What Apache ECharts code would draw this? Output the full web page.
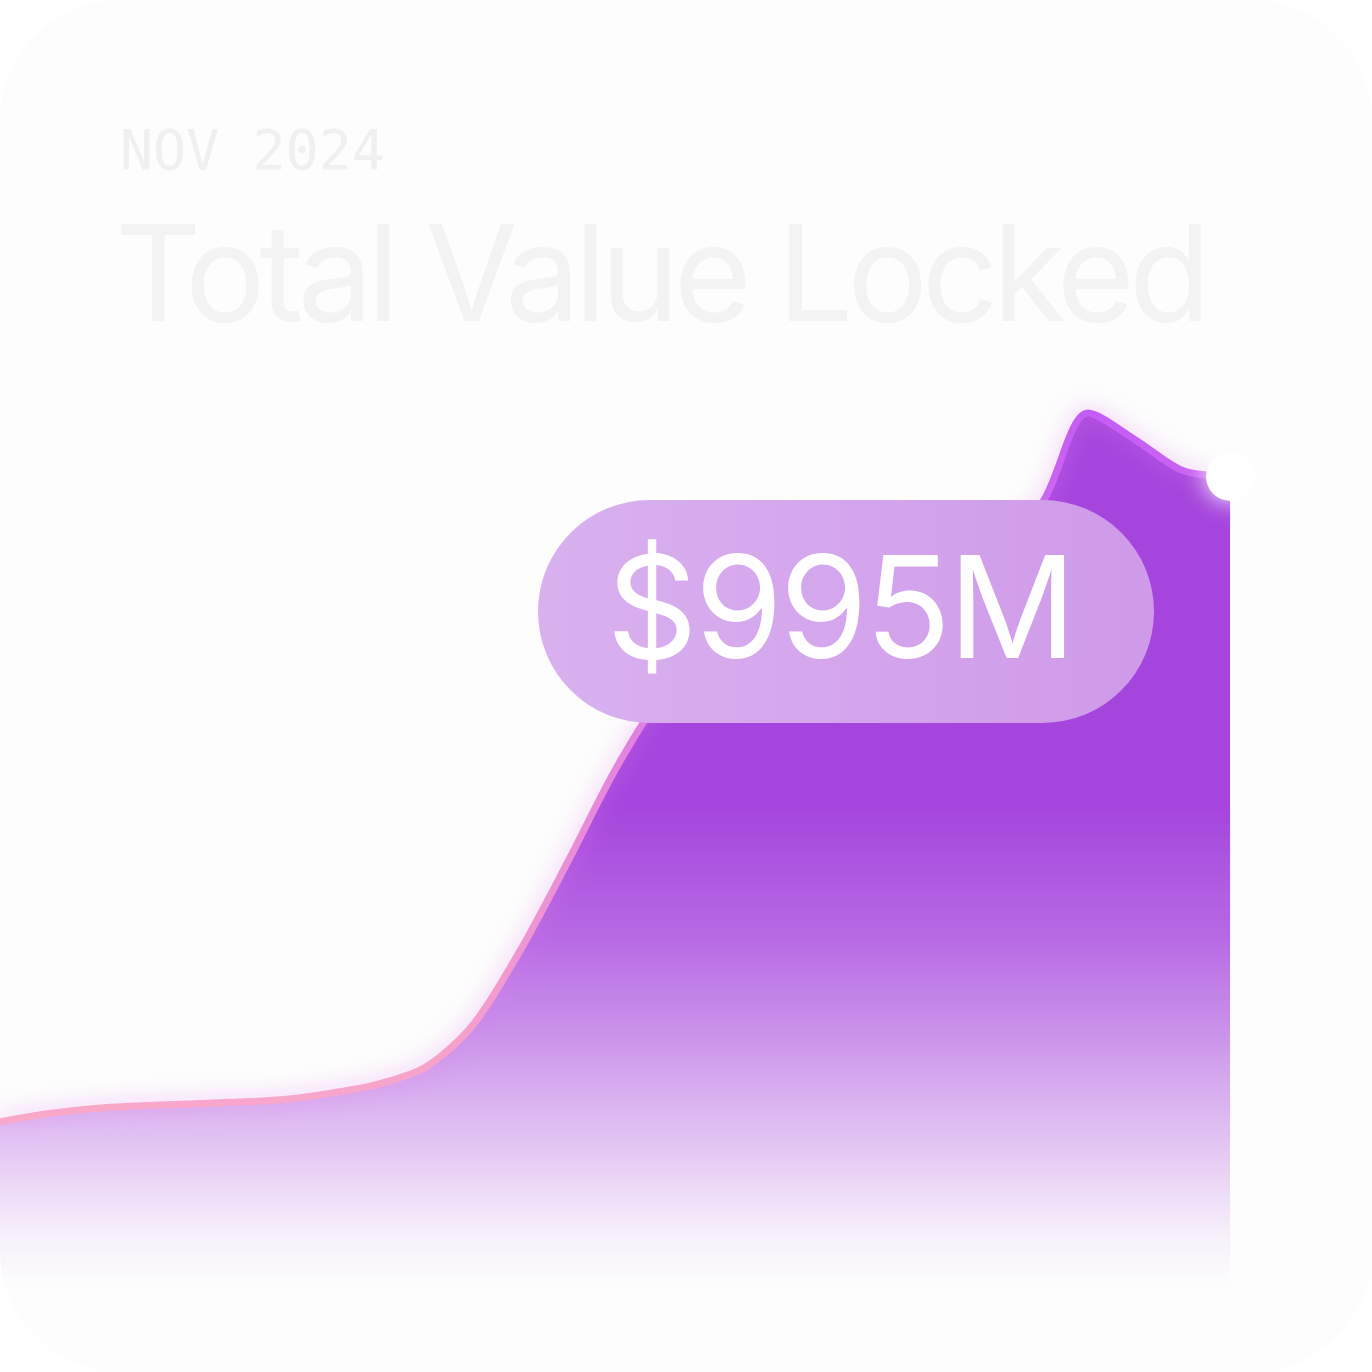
<!DOCTYPE html>
<html>
<head>
<meta charset="utf-8">
<script src="https://cdn.jsdelivr.net/npm/echarts@6/dist/echarts.min.js"></script>
<style>
html,body{margin:0;padding:0;background:#ffffff;}
#card{width:1372px;height:1372px;border-radius:120px;overflow:hidden;background:#fdfdfd;}
</style>
</head>
<body>
<div id="card"></div>
<script>
// Day of month (Nov 2024)
const days = [1,2,3,4,5,6,7,8,9,10,11,12,13,14,15,16,17,18,19,20,21,22,23,24,25,26,27];
// Total value locked, $M
const tvl = [278,287,293,296,298,300,303,310,320,339,386,469,567,669,753,814,853,875,892,905,916,930,964,1066,1036,1002,995];
const periodLabel = 'NOV 2024';
const titleText = 'Total Value Locked';

const lastIdx = tvl.length - 1;
const seriesData = days.map((d, i) => [d, tvl[i]]);
const valueLabel = '$' + tvl[lastIdx] + 'M';

// tighter tracking for the display texts (canvas letterSpacing)
const tracking = {};
tracking[titleText] = '-6px';
tracking[valueLabel] = '-3px';
const proto = CanvasRenderingContext2D.prototype;
const origFill = proto.fillText;
proto.fillText = function (t, x, y, w) {
  if (tracking[t] !== undefined && 'letterSpacing' in this) {
    const prev = this.letterSpacing;
    this.letterSpacing = tracking[t];
    const r = w === undefined ? origFill.call(this, t, x, y) : origFill.call(this, t, x, y, w);
    this.letterSpacing = prev;
    return r;
  }
  return w === undefined ? origFill.call(this, t, x, y) : origFill.call(this, t, x, y, w);
};

const chart = echarts.init(document.getElementById('card'), null, {renderer: 'canvas'});

chart.setOption({
  backgroundColor: 'transparent',
  animation: false,
  title: [
    {text: periodLabel, left: 115, top: 122,
     textStyle: {fontFamily: 'DejaVu Sans Mono', fontSize: 55, fontWeight: 'normal', color: '#f0f0f0'}},
    {text: titleText, left: 110, top: 209,
     textStyle: {fontFamily: 'Inter', fontSize: 134, fontWeight: 'normal', color: '#f3f3f3'}}
  ],
  grid: {left: 0, right: 0, top: 0, bottom: 0},
  xAxis: {type: 'value', min: 1, max: 30, show: false},
  yAxis: {type: 'value', min: 0, max: 1525, show: false},
  series: [{
    type: 'line',
    data: seriesData,
    smooth: 0.3,
    symbol: 'none',
    z: 2,
    lineStyle: {
      width: 7,
      color: new echarts.graphic.LinearGradient(0, 1120, 0, 412, [
        {offset: 0, color: '#f9a8c8'},
        {offset: 0.5, color: '#e485de'},
        {offset: 1, color: '#c45cf7'}
      ], true),
      shadowBlur: 22,
      shadowColor: 'rgba(225,120,235,0.6)'
    },
    areaStyle: {
      opacity: 1,
      color: new echarts.graphic.LinearGradient(0, 0, 0, 1372, [
        {offset: 0, color: 'rgba(165,69,221,1)'},
        {offset: 0.588, color: 'rgba(165,69,221,1)'},
        {offset: 0.685, color: 'rgba(165,69,221,0.8)'},
        {offset: 0.758, color: 'rgba(165,69,221,0.56)'},
        {offset: 0.831, color: 'rgba(165,69,221,0.31)'},
        {offset: 0.88, color: 'rgba(165,69,221,0.14)'},
        {offset: 0.904, color: 'rgba(165,69,221,0.06)'},
        {offset: 0.94, color: 'rgba(165,69,221,0)'}
      ], true)
    },
    markPoint: {
      symbol: 'circle',
      symbolSize: 48,
      itemStyle: {color: '#ffffff', shadowBlur: 24, shadowColor: 'rgba(255,255,255,1)'},
      label: {show: false},
      data: [{coord: seriesData[lastIdx]}]
    }
  }],
  graphic: [{
    type: 'rect',
    z: 100,
    shape: {x: 538, y: 500, width: 616, height: 223, r: 111.5},
    style: {
      fill: new echarts.graphic.LinearGradient(0, 0, 1, 0, [
        {offset: 0, color: '#d9b1ef'},
        {offset: 1, color: '#cf9ae9'}
      ])
    }
  }, {
    type: 'text',
    z: 101,
    x: 840, y: 615,
    style: {
      text: valueLabel,
      fontFamily: 'Inter', fontSize: 142, fontWeight: 'normal',
      fill: '#ffffff', align: 'center', verticalAlign: 'middle'
    }
  }]
});
</script>
</body>
</html>
